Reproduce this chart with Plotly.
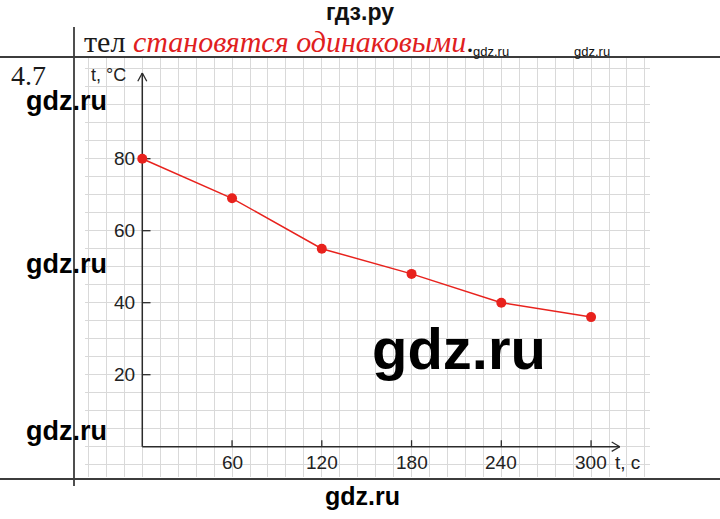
import plotly.graph_objects as go

# ---- data ----
time_s = [0, 60, 120, 180, 240, 300]
temp_c = [80, 69, 55, 48, 40, 36]
x_tick_vals = [60, 120, 180, 240, 300]
y_tick_vals = [20, 40, 60, 80]
x_title = "t, c"
y_title = "t, °C"

# ---- layout geometry ----
W, H = 720, 519
L, R, T, B = 85, 70, 57, 42
X_RANGE = [-38.3, 339.4]
Y_RANGE = [-8.42, 108.25]
RED = "#e8221d"
AX = "#2b2b2b"
GRID = "#d9d9d9"
TABLE = "#3c3c3c"


def pxx(p):  # pixel x -> paper
    return (p - L) / (W - L - R)


def pxy(p):  # pixel y -> paper
    return (H - B - p) / (H - T - B)


fig = go.Figure()
fig.add_trace(go.Scatter(
    x=time_s, y=temp_c, mode="lines+markers",
    line=dict(color=RED, width=1.5),
    marker=dict(color=RED, size=10),
    cliponaxis=False, hoverinfo="skip", showlegend=False))

shapes = []
y_top = 103.8
x_end = 319.2
# axes
shapes.append(dict(type="line", xref="x", yref="y", x0=0, y0=0, x1=0, y1=y_top,
                   line=dict(color=AX, width=1.5), layer="between"))
shapes.append(dict(type="line", xref="x", yref="y", x0=0, y0=0, x1=x_end, y1=0,
                   line=dict(color=AX, width=1.5), layer="between"))
# arrow heads (open V)
for s in (-1, 1):
    shapes.append(dict(type="line", xref="x", yref="y", x0=0, y0=y_top, x1=3.0 * s, y1=y_top - 2.3,
                       line=dict(color=AX, width=1.3), layer="between"))
    shapes.append(dict(type="line", xref="x", yref="y", x0=x_end, y0=0, x1=x_end - 5.4, y1=1.3 * s,
                       line=dict(color=AX, width=1.3), layer="between"))
# ticks
for v in y_tick_vals:
    shapes.append(dict(type="line", xref="x", yref="y", x0=0, y0=v, x1=5.5, y1=v,
                       line=dict(color=AX, width=1.3), layer="between"))
for v in x_tick_vals:
    shapes.append(dict(type="line", xref="x", yref="y", x0=v, y0=0, x1=v, y1=1.8,
                       line=dict(color=AX, width=1.3), layer="between"))
# table lines
shapes.append(dict(type="line", xref="paper", yref="paper", x0=pxx(0), x1=pxx(720), y0=pxy(57), y1=pxy(57),
                   line=dict(color=TABLE, width=2)))
shapes.append(dict(type="line", xref="paper", yref="paper", x0=pxx(0), x1=pxx(720), y0=pxy(479), y1=pxy(479),
                   line=dict(color=TABLE, width=2)))
shapes.append(dict(type="line", xref="paper", yref="paper", x0=pxx(74), x1=pxx(74), y0=pxy(27), y1=pxy(486),
                   line=dict(color=TABLE, width=1.8)))

ann = []
tick_font = dict(family="Liberation Sans, Arial, sans-serif", size=19, color="#222222")
for v in y_tick_vals:
    ann.append(dict(x=0, y=v, xref="x", yref="y", text=str(v), showarrow=False,
                    xanchor="right", yanchor="middle", xshift=-5, font=tick_font))
for v in x_tick_vals:
    ann.append(dict(x=v, y=0, xref="x", yref="y", text=str(v), showarrow=False,
                    xanchor="center", yanchor="middle", yshift=-16, font=tick_font))
ann.append(dict(x=pxx(613), y=pxy(462), xref="paper", yref="paper", text=x_title, showarrow=False,
                xanchor="left", yanchor="middle", font=tick_font))
ann.append(dict(x=pxx(89), y=pxy(75), xref="paper", yref="paper", text=y_title, showarrow=False,
                xanchor="left", yanchor="middle",
                font=dict(family="Liberation Sans Narrow, Liberation Sans, sans-serif", size=18, color="#222222")))

# page text
ann.append(dict(x=pxx(360), y=pxy(12), xref="paper", yref="paper", text="<b>гдз.ру</b>", showarrow=False,
                xanchor="center", yanchor="middle",
                font=dict(family="Liberation Sans, Arial, sans-serif", size=23, color="#111111")))
ann.append(dict(x=pxx(82), y=pxy(42), xref="paper", yref="paper",
                text="тел <span style='color:#e0201e'><i>становятся одинаковыми</i></span>.",
                showarrow=False, xanchor="left", yanchor="middle",
                font=dict(family="Liberation Serif, Times New Roman, serif", size=30, color="#1a1a1a")))
ann.append(dict(x=pxx(9), y=pxy(76), xref="paper", yref="paper", text="4.7", showarrow=False,
                xanchor="left", yanchor="middle",
                font=dict(family="Liberation Serif, Times New Roman, serif", size=28, color="#1a1a1a")))

# watermarks
wm = "<b>gdz.ru</b>"
for (cx, cy, sz) in [(66, 101, 27), (66, 264, 27), (66, 431, 27), (459, 348, 58), (362, 496, 25)]:
    ann.append(dict(x=pxx(cx), y=pxy(cy), xref="paper", yref="paper", text=wm, showarrow=False,
                    xanchor="center", yanchor="middle",
                    font=dict(family="Liberation Sans, Arial, sans-serif", size=sz, color="#000000")))
for cx in (491, 592):
    ann.append(dict(x=pxx(cx), y=pxy(51), xref="paper", yref="paper", text="gdz.ru", showarrow=False,
                    xanchor="center", yanchor="middle",
                    font=dict(family="Liberation Sans, Arial, sans-serif", size=13, color="#111111")))

fig.update_layout(
    width=W, height=H,
    margin=dict(l=L, r=R, t=T, b=B, pad=0),
    paper_bgcolor="white", plot_bgcolor="white",
    shapes=shapes, annotations=ann, showlegend=False,
    xaxis=dict(range=X_RANGE, tick0=0, dtick=12, showgrid=True, gridcolor=GRID, gridwidth=1,
               zeroline=False, showline=False, showticklabels=False, ticks="", fixedrange=True),
    yaxis=dict(range=Y_RANGE, tick0=0, dtick=5, showgrid=True, gridcolor=GRID, gridwidth=1,
               zeroline=False, showline=False, showticklabels=False, ticks="", fixedrange=True),
)

fig.write_html("out.html", config={"displayModeBar": False, "staticPlot": True},
               post_script="document.body.style.margin='0';document.body.style.padding='0';")
